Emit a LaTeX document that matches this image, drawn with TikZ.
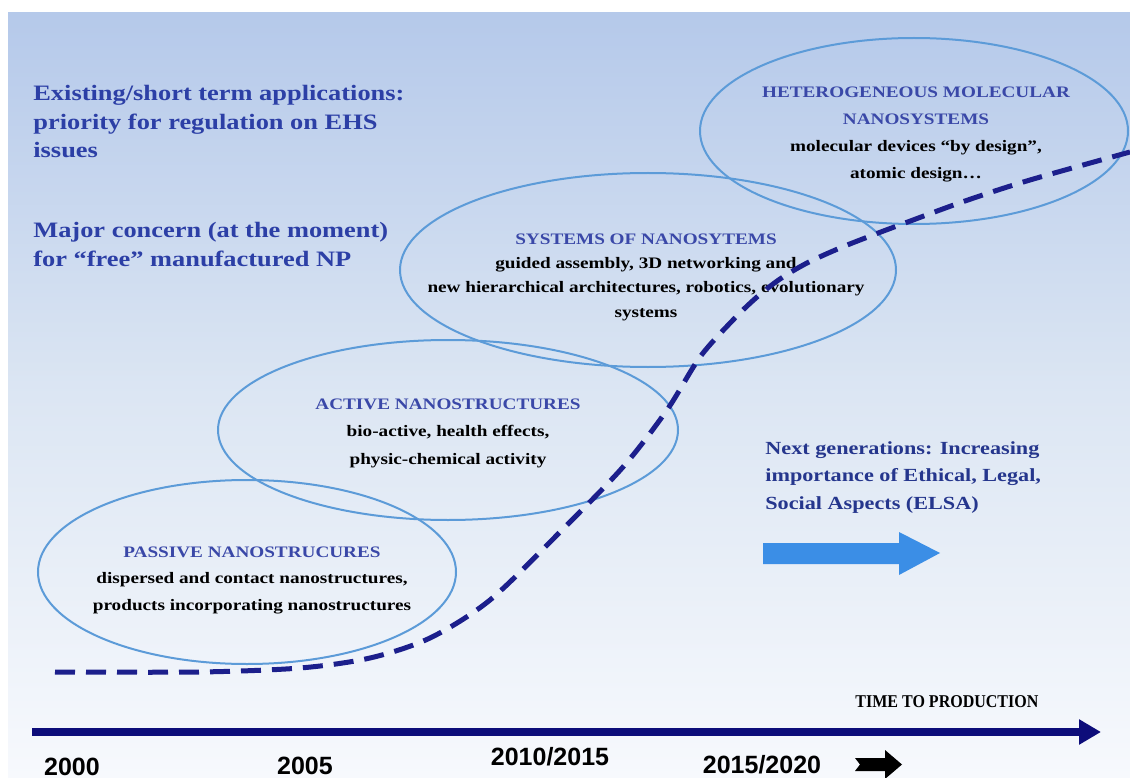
\documentclass[tikz,border=0pt]{standalone}
\usepackage{fontspec}
\setmainfont[FakeStretch=1.2]{Liberation Serif}
\newfontfamily\yearfont{Liberation Sans}
\newfontfamily\narrowserif[FakeStretch=0.89]{Liberation Serif}
\usetikzlibrary{shapes.geometric,arrows.meta}

\definecolor{bgtop}{HTML}{B5C9EA}
\definecolor{bgmid}{HTML}{DCE6F3}
\definecolor{bgbot}{HTML}{F7F9FD}
\definecolor{ellcol}{HTML}{5C9BD8}
\definecolor{titlecol}{HTML}{3A48A8}
\definecolor{notecol}{HTML}{2C3FA6}
\definecolor{dashcol}{HTML}{1C1F8C}
\definecolor{axiscol}{HTML}{0D0D7A}
\definecolor{fatcol}{HTML}{3B8EE6}

\tikzset{
	every picture/.style={line width=0.75pt},
	gen/.style={ellipse, draw=ellcol, line width=2pt, inner sep=0pt},
	gentxt/.style={align=center, inner sep=0pt, font=\fontsize{16}{26.5}\selectfont\bfseries},
	note/.style={align=left, anchor=north west, inner sep=0pt, text=notecol, font=\fontsize{22}{28.5}\selectfont\bfseries},
	year/.style={anchor=base, inner sep=0pt, font=\yearfont\fontsize{25}{25}\selectfont\bfseries},
}
\newcommand{\gentitle}[1]{{\color{titlecol}#1}}

\begin{document}
\begin{tikzpicture}[x=1pt,y=1pt,yscale=-1]
	\useasboundingbox (0,0) rectangle (1130,778);
	
	% background
	\fill[white] (0,0) rectangle (1130,778);
	\shade[top color=bgtop, bottom color=bgbot, middle color=bgmid] (8,13) rectangle (1130,778);
	
	% generations
	\node[gen, minimum width=418pt, minimum height=184pt] (pas) at (247,572) {};
	\node[gen, minimum width=460pt, minimum height=180pt] (act) at (448,430) {};
	\node[gen, minimum width=496pt, minimum height=194pt] (sys) at (648,270) {};
	\node[gen, minimum width=428pt, minimum height=186pt] (het) at (914,131) {};
	
	\node[gentxt] (pastxt) at (252,580) {\gentitle{PASSIVE NANOSTRUCURES}\\dispersed and contact nanostructures,\\products incorporating nanostructures};
	\node[gentxt, font=\fontsize{16}{27.5}\selectfont\bfseries] (acttxt) at (448,433) {\gentitle{ACTIVE NANOSTRUCTURES}\\bio-active, health effects,\\physic-chemical activity};
	\node[gentxt, font=\fontsize{16}{24.3}\selectfont\bfseries] (systxt) at (646,277) {\gentitle{SYSTEMS OF NANOSYTEMS}\\guided assembly, 3D networking and\\new hierarchical architectures, robotics, evolutionary\\systems};
	\node[gentxt, font=\fontsize{16}{27}\selectfont\bfseries] (hettxt) at (916,134) {\gentitle{HETEROGENEOUS MOLECULAR}\\\gentitle{NANOSYSTEMS}\\molecular devices ``by design'',\\atomic design\ldots};
	
	% growth curve
	\draw[dashcol, line width=5pt, dash pattern=on 20pt off 11pt] plot[smooth, tension=0.5] coordinates {(55,672) (200,672) (300,668) (370,658) (430,638) (490,600) (560,532) (623,467) (667,410) (700,357) (733,320) (757,297) (780,279) (807,263) (840,248) (873,235) (905,223) (965,201) (1030,180) (1130,152)};
	
	% notes
	\node[note] (regnote) at (33,85) {Existing/short term applications:\\priority for regulation on EHS\\issues};
	\node[note] (npnote) at (33,222) {Major concern (at the moment)\\for ``free'' manufactured NP};
	\node[note, font=\fontsize{18.5}{27.5}\selectfont\bfseries, text=notecol!85!black] (elsa) at (765,441) {Next generations: Increasing\\importance of Ethical, Legal,\\Social Aspects (ELSA)};
	
	% fat arrow
	\fill[fatcol] (763,543) -- (899,543) -- (899,532) -- (940,553) -- (899,575) -- (899,564) -- (763,564) -- cycle;
	
	% time axis
	\coordinate (t0) at (32,732);
	\coordinate (t1) at (1101,732);
	\draw[axiscol, line width=8pt, -{Triangle[length=22pt,width=24pt]}] (t0) -- (t1);
	\node[anchor=base west, inner sep=0pt, font=\narrowserif\fontsize{18}{18}\selectfont\bfseries] (ttp) at (855,707) {TIME TO PRODUCTION};
	
	\node[year] (y2000) at (72,775) {2000};
	\node[year] (y2005) at (305,774) {2005};
	\node[year] (y2010) at (550,765) {2010/2015};
	\node[year] (y2015) at (762,773) {2015/2020};
	\fill[black] (855,758) -- (885,758) -- (885,750) -- (902,764.5) -- (885,779) -- (885,771) -- (855,771) -- (860,764.5) -- cycle;
	
\end{tikzpicture}
\end{document}
